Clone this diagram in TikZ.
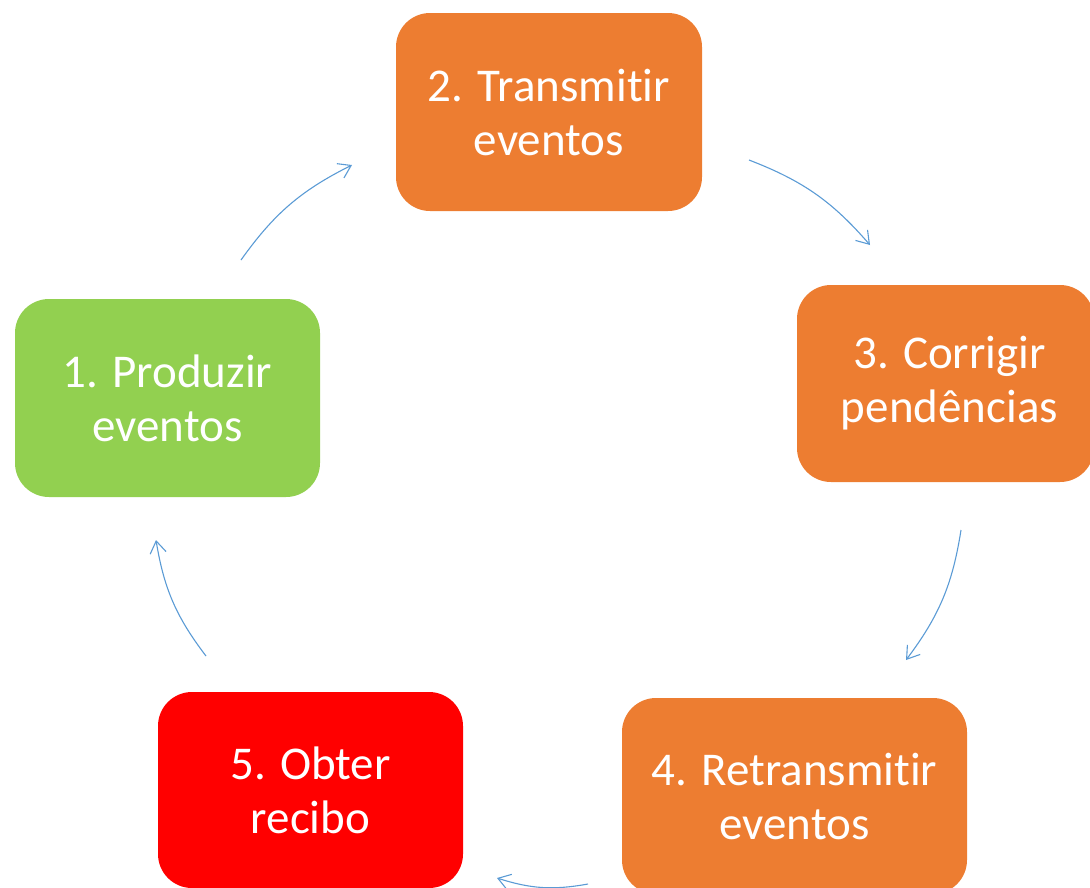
\documentclass[tikz,border=0pt]{standalone}
\usepackage{fontspec}
\setmainfont{Carlito}[Ligatures=NoCommon]
\usetikzlibrary{arrows.meta}
\definecolor{boxorange}{HTML}{ED7D31}
\definecolor{boxgreen}{HTML}{92D050}
\definecolor{boxred}{HTML}{FF0000}
\definecolor{arrowblue}{HTML}{5B9BD5}
\begin{document}
\begin{tikzpicture}[x=1pt,y=-1pt,
  stepbox/.style={rounded corners=34pt, inner sep=0pt, align=center,
    text=white, font=\fontsize{47}{54}\selectfont},
  cyclearrow/.style={draw=arrowblue, line width=1.1pt,
    -{Straight Barb[length=12pt,width=16pt,line width=1.1pt]}, bend left=14}]
\useasboundingbox (0,0) rectangle (1090,887);
\clip (0,0) rectangle (1090,887);
\node[stepbox, fill=boxgreen, minimum width=305pt, minimum height=198pt] (n1) at (167.5,398) {1. Produzir\\eventos};
\node[stepbox, fill=boxorange, minimum width=306pt, minimum height=198pt] (n2) at (549,112) {2. Transmitir\\eventos};
\node[stepbox, fill=boxorange, minimum width=297pt, minimum height=197pt] (n3) at (945.5,383.5) {\hspace*{8pt}3. Corrigir\\\hspace*{8pt}pendências};
\node[stepbox, fill=boxorange, minimum width=345pt, minimum height=196pt] (n4) at (794.5,796) {4. Retransmitir\\eventos};
\node[stepbox, fill=boxred, minimum width=305pt, minimum height=196pt] (n5) at (310.5,790) {5. Obter\\recibo};
\coordinate (a1s) at (241,260);
\coordinate (a1e) at (352,165);
\coordinate (a2s) at (749,160);
\coordinate (a2e) at (870,245);
\coordinate (a3s) at (961,530);
\coordinate (a3e) at (906,660);
\coordinate (a4s) at (588,884);
\coordinate (a4e) at (497,878);
\coordinate (a5s) at (206,656);
\coordinate (a5e) at (156,540);
\draw[cyclearrow] (a1s) to (a1e);
\draw[cyclearrow] (a2s) to (a2e);
\draw[cyclearrow] (a3s) to (a3e);
\draw[cyclearrow] (a4s) to (a4e);
\draw[cyclearrow] (a5s) to (a5e);
\end{tikzpicture}
\end{document}
